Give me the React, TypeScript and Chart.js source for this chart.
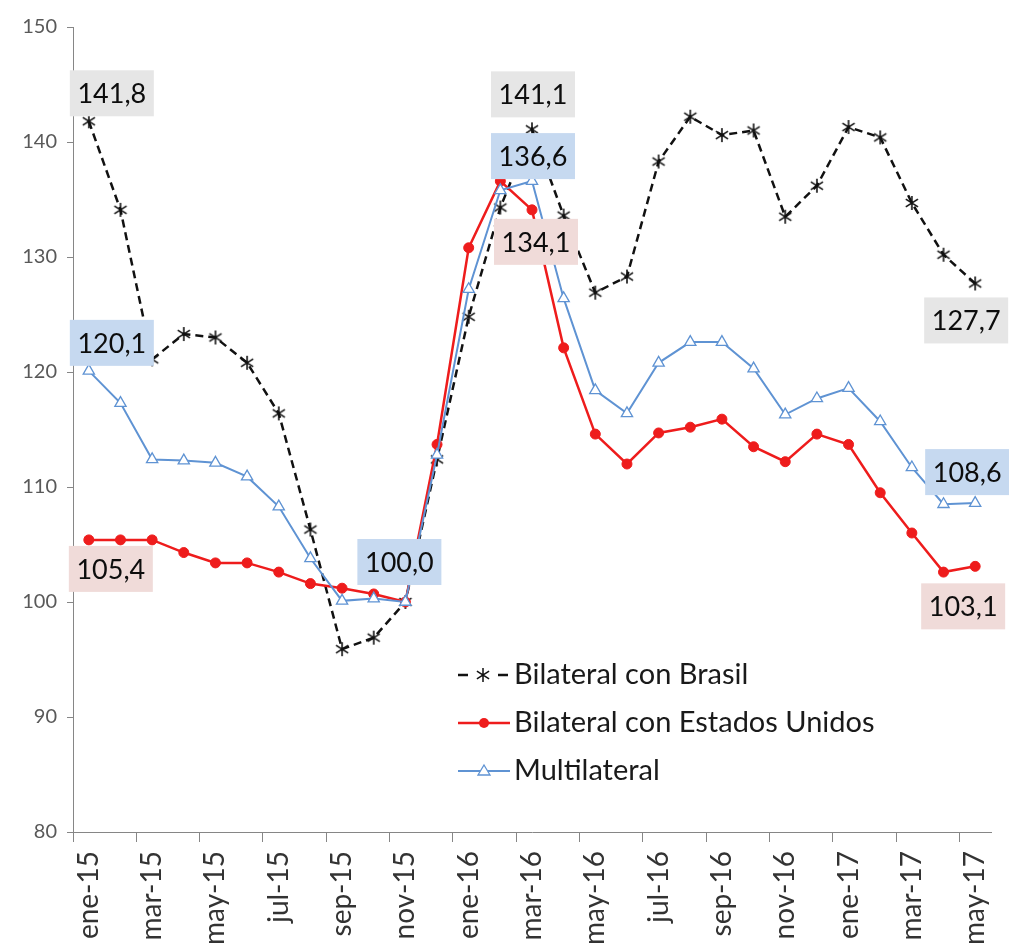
import { useEffect, useRef } from 'react';
import { Chart, registerables } from 'chart.js';

Chart.register(...registerables);

const months = [
  'ene-15', 'feb-15', 'mar-15', 'abr-15', 'may-15', 'jun-15', 'jul-15', 'ago-15', 'sep-15', 'oct-15', 'nov-15', 'dic-15',
  'ene-16', 'feb-16', 'mar-16', 'abr-16', 'may-16', 'jun-16', 'jul-16', 'ago-16', 'sep-16', 'oct-16', 'nov-16', 'dic-16',
  'ene-17', 'feb-17', 'mar-17', 'abr-17', 'may-17',
];

const brasil = [
  141.8, 134.1, 121.1, 123.3, 123.0, 120.8, 116.4, 106.3, 95.9, 96.9, 100.0, 112.4,
  124.8, 134.3, 141.1, 133.6, 126.9, 128.3, 138.3, 142.2, 140.6, 141.0, 133.5, 136.2,
  141.3, 140.4, 134.7, 130.2, 127.7,
];

const estadosUnidos = [
  105.4, 105.4, 105.4, 104.3, 103.4, 103.4, 102.6, 101.6, 101.2, 100.7, 100.0, 113.7,
  130.8, 136.6, 134.1, 122.1, 114.6, 112.0, 114.7, 115.2, 115.9, 113.5, 112.2, 114.6,
  113.7, 109.5, 106.0, 102.6, 103.1,
];

const multilateral = [
  120.1, 117.3, 112.4, 112.3, 112.1, 110.9, 108.3, 103.8, 100.1, 100.3, 100.0, 112.8,
  127.2, 135.8, 136.6, 126.4, 118.4, 116.4, 120.8, 122.6, 122.6, 120.3, 116.3, 117.7,
  118.6, 115.7, 111.7, 108.5, 108.6,
];

const seriesNames = ['Bilateral con Brasil', 'Bilateral con Estados Unidos', 'Multilateral'];

const yMin = 80;
const yMax = 150;
const yStep = 10;

// which points carry a boxed value label: [dataset, point index]
const labelledPoints = [
  [0, 0], [1, 0], [2, 0],
  [2, 10],
  [0, 14], [2, 14], [1, 14],
  [0, 28], [2, 28], [1, 28],
];

// placement offsets for the labels above (style, not data)
const labelOffsets = [
  [23, -28], [22, 29], [23, -28],
  [-6, -40],
  [1, -35], [1, -25], [4, 32],
  [-9, 37], [-8, -31], [-12, 40],
];

const FONT = 'Lato, "Open Sans", sans-serif';
const LINE_COLORS = ['#111111', '#ee1c1c', '#5f93d3'];
const boxColorFor = (ds: number) => (ds === 0 ? '#e6e6e6' : ds === 1 ? '#f0dbd9' : '#c6d9f0');

const fmt = (v: number) => v.toFixed(1).replace('.', ',');

function drawStar(ctx: CanvasRenderingContext2D, x: number, y: number, r: number) {
  ctx.beginPath();
  ctx.moveTo(x, y - r);
  ctx.lineTo(x, y + r);
  ctx.moveTo(x - r * 0.87, y - r * 0.55);
  ctx.lineTo(x + r * 0.87, y + r * 0.55);
  ctx.moveTo(x - r * 0.87, y + r * 0.55);
  ctx.lineTo(x + r * 0.87, y - r * 0.55);
  ctx.stroke();
}

function makeStarMarker(size: number, color: string, lw: number) {
  const c = document.createElement('canvas');
  c.width = size;
  c.height = size;
  const g = c.getContext('2d')!;
  g.strokeStyle = color;
  g.lineWidth = lw;
  drawStar(g, size / 2, size / 2, size / 2 - 1);
  return c;
}

const boxLabelPlugin = {
  id: 'boxLabels',
  afterDatasetsDraw(chart: any) {
    const ctx = chart.ctx as CanvasRenderingContext2D;
    ctx.save();
    ctx.font = `27px ${FONT}`;
    ctx.textAlign = 'center';
    ctx.textBaseline = 'middle';
    labelledPoints.forEach(([ds, i], k) => {
      const pt = chart.getDatasetMeta(ds).data[i];
      if (!pt) return;
      const v = chart.data.datasets[ds].data[i] as number;
      const [dx, dy] = labelOffsets[k];
      const cx = pt.x + dx;
      const cy = pt.y + dy;
      ctx.fillStyle = boxColorFor(ds);
      ctx.fillRect(cx - 42, cy - 23, 84, 46);
      ctx.fillStyle = '#0d0d0d';
      ctx.fillText(fmt(v), cx, cy + 1);
    });
    ctx.restore();
  },
};

const legendPlugin = {
  id: 'insideLegend',
  afterDraw(chart: any) {
    const ctx = chart.ctx as CanvasRenderingContext2D;
    const area = chart.chartArea;
    const x0 = area.left + 385;
    const rows = [675, 723, 771];
    ctx.save();
    // row 1: - * -
    ctx.strokeStyle = LINE_COLORS[0];
    ctx.lineWidth = 2.5;
    ctx.beginPath();
    ctx.moveTo(x0, rows[0]);
    ctx.lineTo(x0 + 10, rows[0]);
    ctx.moveTo(x0 + 40, rows[0]);
    ctx.lineTo(x0 + 50, rows[0]);
    ctx.stroke();
    ctx.lineWidth = 1.5;
    drawStar(ctx, x0 + 25, rows[0], 7);
    // row 2: red line + dot
    ctx.strokeStyle = LINE_COLORS[1];
    ctx.lineWidth = 2.5;
    ctx.beginPath();
    ctx.moveTo(x0, rows[1]);
    ctx.lineTo(x0 + 52, rows[1]);
    ctx.stroke();
    ctx.fillStyle = LINE_COLORS[1];
    ctx.beginPath();
    ctx.arc(x0 + 26, rows[1], 5, 0, Math.PI * 2);
    ctx.fill();
    // row 3: blue line + triangle
    ctx.strokeStyle = LINE_COLORS[2];
    ctx.lineWidth = 2;
    ctx.beginPath();
    ctx.moveTo(x0, rows[2]);
    ctx.lineTo(x0 + 52, rows[2]);
    ctx.stroke();
    ctx.fillStyle = '#ffffff';
    ctx.lineWidth = 1.3;
    ctx.beginPath();
    ctx.moveTo(x0 + 26, rows[2] - 6);
    ctx.lineTo(x0 + 32, rows[2] + 4);
    ctx.lineTo(x0 + 20, rows[2] + 4);
    ctx.closePath();
    ctx.fill();
    ctx.stroke();
    // texts
    ctx.font = `29px ${FONT}`;
    ctx.fillStyle = '#1a1a1a';
    ctx.textAlign = 'left';
    ctx.textBaseline = 'middle';
    seriesNames.forEach((name, i) => {
      ctx.fillText(name, x0 + 56, rows[i]);
    });
    ctx.restore();
  },
};

export default function App() {
  const ref = useRef<HTMLCanvasElement | null>(null);

  useEffect(() => {
    document.body.style.margin = '0';
    const canvas = ref.current;
    if (!canvas) return;
    const star = makeStarMarker(16, '#111111', 1.6);

    const chart = new Chart(canvas, {
      type: 'line',
      data: {
        labels: months,
        datasets: [
          {
            label: seriesNames[0],
            data: brasil,
            borderColor: LINE_COLORS[0],
            borderWidth: 2.5,
            borderDash: [8, 5],
            pointStyle: star as any,
            pointRadius: 8,
            tension: 0,
            order: 3,
          },
          {
            label: seriesNames[1],
            data: estadosUnidos,
            borderColor: LINE_COLORS[1],
            backgroundColor: LINE_COLORS[1],
            borderWidth: 2.5,
            pointStyle: 'circle',
            pointRadius: 5,
            pointBorderWidth: 1,
            tension: 0,
            order: 2,
          },
          {
            label: seriesNames[2],
            data: multilateral,
            borderColor: LINE_COLORS[2],
            backgroundColor: '#ffffff',
            borderWidth: 2,
            pointStyle: 'triangle',
            pointRadius: 6.5,
            pointBorderWidth: 1.3,
            tension: 0,
            order: 1,
          },
        ],
      },
      options: {
        responsive: false,
        animation: false,
        events: [],
        layout: { padding: { top: 27, right: 18, left: 0, bottom: 0 } },
        plugins: {
          legend: { display: false },
          tooltip: { enabled: false },
          title: { display: false },
        },
        scales: {
          x: {
            type: 'category',
            offset: true,
            afterFit: (s: any) => {
              s.height = 119;
              s.paddingLeft = 0;
              s.paddingRight = 0;
            },
            grid: {
              offset: true,
              drawOnChartArea: false,
              drawTicks: true,
              tickLength: 10,
              color: (c: any) => (c.index !== undefined && c.index % 2 === 0 ? '#868686' : 'rgba(0,0,0,0)'),
            },
            border: { display: true, color: '#868686', width: 1 },
            ticks: {
              autoSkip: false,
              minRotation: 90,
              maxRotation: 90,
              padding: 9,
              color: '#333333',
              font: { family: FONT, size: 28 },
              callback: (_v: any, i: number) => (i % 2 === 0 ? months[i] : ''),
            },
          },
          y: {
            min: yMin,
            max: yMax,
            afterFit: (s: any) => {
              s.width = 73;
              s.paddingTop = 0;
              s.paddingBottom = 0;
            },
            grid: {
              drawOnChartArea: false,
              drawTicks: true,
              tickLength: 6,
              color: '#868686',
            },
            border: { display: true, color: '#868686', width: 1 },
            ticks: {
              stepSize: yStep,
              padding: 10,
              color: '#595959',
              font: { family: FONT, size: 20 },
            },
          },
        },
      },
      plugins: [boxLabelPlugin, legendPlugin],
    });

    if ((document as any).fonts?.load) {
      (document as any).fonts.load(`27px Lato`).then(() => chart.update()).catch(() => {});
    }

    return () => chart.destroy();
  }, []);

  return (
    <div style={{ width: 1009, height: 951 }}>
      <canvas ref={ref} width={1009} height={951} style={{ display: 'block' }} />
    </div>
  );
}
